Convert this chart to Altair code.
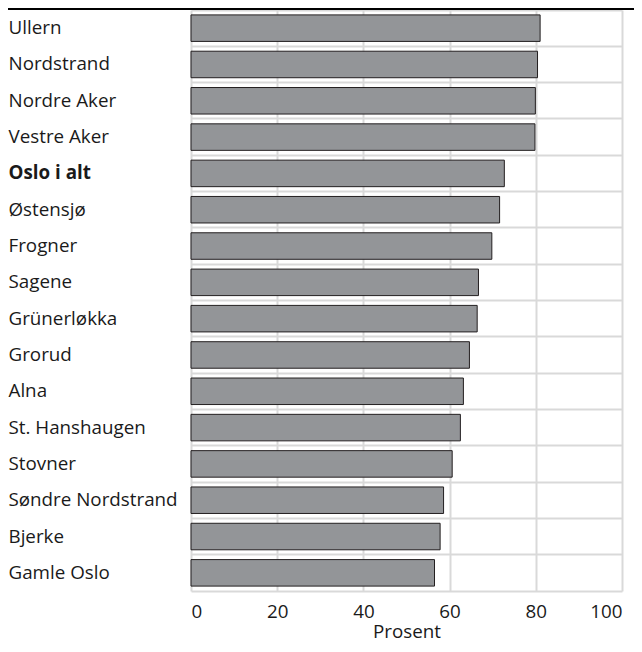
import altair as alt
import pandas as pd

categories = ["Ullern", "Nordstrand", "Nordre Aker", "Vestre Aker", "Oslo i alt",
              "Østensjø", "Frogner", "Sagene", "Grünerløkka", "Grorud", "Alna",
              "St. Hanshaugen", "Stovner", "Søndre Nordstrand", "Bjerke", "Gamle Oslo"]
values = [81.0, 80.4, 79.9, 79.8, 72.7, 71.6, 69.8, 66.7, 66.4, 64.6, 63.2,
          62.5, 60.6, 58.6, 57.8, 56.5]
x_ticks = [0, 20, 40, 60, 80, 100]

df = pd.DataFrame({"bydel": categories, "prosent": values})

W, H = 431, 581
FONT = "Open Sans"
FS = 18.8
GRID = "#d9d9d9"
TXT = "#1a1a1a"

bars = alt.Chart(df).mark_bar(
    fill="#939598", stroke="#231f20", strokeWidth=1, height={"band": 0.73}
).encode(
    x=alt.X("prosent:Q",
            scale=alt.Scale(domain=[0, 100], nice=False),
            axis=alt.Axis(values=x_ticks, title="Prosent", grid=True,
                          gridColor=GRID, gridWidth=2,
                          domain=True, domainColor=GRID, domainWidth=2,
                          ticks=False, tickSize=0, labelPadding=11,
                          labelFont=FONT, labelFontSize=FS, labelColor=TXT,
                          titleFont=FONT, titleFontSize=FS, titleFontWeight="normal",
                          titleColor=TXT, titlePadding=2)),
    y=alt.Y("bydel:N", sort=categories,
            scale=alt.Scale(paddingInner=0, paddingOuter=0),
            axis=alt.Axis(title=None, grid=True, gridColor=GRID, gridWidth=2,
                          bandPosition=0,
                          domain=False, ticks=False, tickSize=0,
                          labelAlign="left", labelBaseline="middle",
                          labelPadding=183, labelFont=FONT, labelFontSize=FS,
                          labelColor=TXT, labelLimit=0,
                          labelFontWeight={"condition": {"test": "datum.value === 'Oslo i alt'",
                                                         "value": "bold"},
                                           "value": "normal"})),
)

top_line = alt.Chart(df).mark_rule(stroke="#000000", strokeWidth=2).encode(
    x=alt.value(-183), x2=alt.value(W + 12), y=alt.value(-1)
)

chart = alt.layer(bars, top_line).properties(
    width=W, height=H,
    autosize=alt.AutoSizeParams(type="none"),
    padding={"left": 183, "top": 2, "right": 12, "bottom": 53},
).configure_view(strokeOpacity=0)

chart.save("out.html", embed_options={"renderer": "svg", "actions": False})
